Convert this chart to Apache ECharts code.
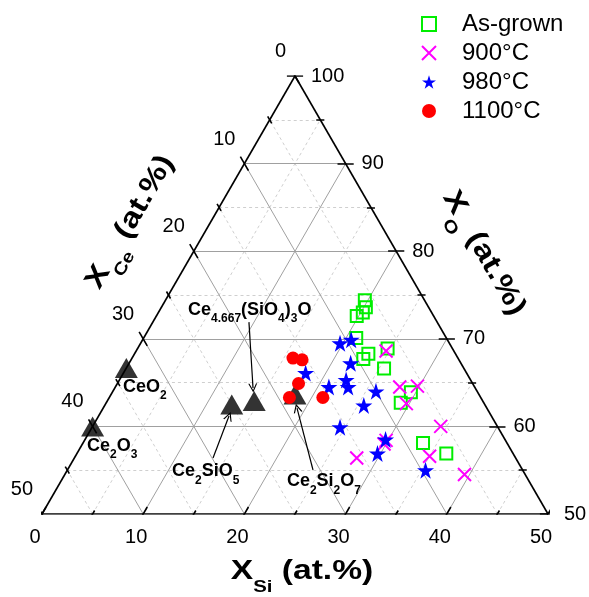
<!DOCTYPE html>
<html>
<head>
<meta charset="utf-8">
<script src="https://cdn.jsdelivr.net/npm/echarts/dist/echarts.min.js"></script>
<style>
html, body { margin: 0; background: #fff; }
#chart { width: 589px; height: 597px; }
</style>
</head>
<body>
<div id="chart"></div>
<script>
// compositions in at.% as [X_Si, X_O]; X_Ce = 100 - X_Si - X_O
const asGrown = [
    [19.7, 74.4], [20.2, 73.6], [20.2, 73.0], [19.8, 72.6], [21.0, 70.1],
    [23.1, 68.3], [22.9, 67.7], [24.7, 68.9], [25.5, 66.6], [29.5, 63.9],
    [29.1, 62.7], [33.6, 58.1], [36.5, 56.9]
]
const t900 = [
    [24.7, 68.6], [28.1, 64.5], [29.8, 64.6], [29.7, 62.6], [34.4, 60.0],
    [29.8, 58.4], [29.8, 58.0], [35.0, 56.6], [27.9, 56.4], [39.5, 54.5]
]
const t980 = [
    [19.7, 69.5], [20.6, 69.9], [18.0, 66.1], [21.9, 67.2], [22.4, 65.3],
    [23.0, 64.5], [21.1, 64.5], [26.0, 64.0], [25.6, 62.4], [24.5, 59.9],
    [29.7, 58.5], [29.7, 56.9], [35.4, 55.0]
]
const t1100 = [
    [15.9, 67.8], [16.9, 67.6], [17.9, 64.9], [17.8, 63.3], [21.1, 63.3]
]
// reference phases, atoms per formula unit [Ce, Si, O]
const phaseNames = ['CeO2', 'Ce2O3', 'Ce2SiO5', 'Ce4.667(SiO4)3O', 'Ce2Si2O7']
const phaseAtoms = [[1, 0, 2], [2, 0, 3], [2, 1, 5], [4.667, 3, 13], [2, 2, 7]]
const siTicks = [0, 10, 20, 30, 40, 50]
const ceTicks = [0, 10, 20, 30, 40, 50]
const oTicks = [50, 60, 70, 80, 90, 100]
const seriesNames = ['As-grown', '900°C', '980°C', '1100°C']

const FONT = "'Liberation Sans', Arial, sans-serif"
const S3 = Math.sqrt(3) / 2

// (Si, O) -> cartesian, bottom edge is O = 50, edge length 50
function tern(si, o) {
    return [si + (o - 50) / 2, (o - 50) * S3]
}

function tick(p, d, len) {
    return { coords: [[p[0] - d[0] * len, p[1] - d[1] * len], [p[0] + d[0] * len, p[1] + d[1] * len]] }
}

const gridMajor = []
const gridMinor = []
for (let v = 5; v < 50; v += 5) {
    const list = v % 10 === 0 ? gridMajor : gridMinor
    list.push({ coords: [tern(0, 50 + v), tern(50 - v, 50 + v)] })
    list.push({ coords: [tern(v, 50), tern(v, 100 - v)] })
    list.push({ coords: [tern(50 - v, 50), tern(0, 100 - v)] })
}

const frame = [
    { coords: [tern(0, 50), tern(50, 50)] },
    { coords: [tern(50, 50), tern(0, 100)] },
    { coords: [tern(0, 100), tern(0, 50)] }
]
for (let v = 0; v <= 50; v += 5) {
    const len = v % 10 === 0 ? 0.8 : 0.4
    frame.push(tick(tern(v, 50), [0.5, S3], len))
    frame.push(tick(tern(50 - v, 50 + v), [1, 0], len))
    frame.push(tick(tern(0, 100 - v), [-0.5, S3], len))
}

const phasePoints = phaseAtoms.map(a => {
    const tot = a[0] + a[1] + a[2]
    return tern(a[1] / tot * 100, a[2] / tot * 100)
})

// annotation layout (cartesian units)
const annText = [
    { value: [8.0, 12.55], f: '{b|CeO}{s|2}' },
    { value: [4.45, 6.72], f: '{b|Ce}{s|2}{b|O}{s|3}' },
    { value: [12.85, 4.2], f: '{b|Ce}{s|2}{b|SiO}{s|5}' },
    { value: [14.43, 20.2], f: '{b|Ce}{s|4.667}{b|(SiO}{s|4}{b|)}{s|3}{b|O}' },
    { value: [24.2, 3.21], f: '{b|Ce}{s|2}{b|Si}{s|2}{b|O}{s|7}' }
]
const annArrows = [
    { coords: [[20.45, 18.97], [20.85, 12.45]] },
    { coords: [[16.9, 5.53], [18.48, 9.68]] },
    { coords: [[26.78, 4.35], [25.2, 10.47]] }
]

const starPath = 'path://M50,2L61.8,38.2L99.5,38.2L69,60.5L80.6,96.3L50,74L19.4,96.3L31,60.5L0.5,38.2L38.2,38.2Z'
const crossPath = 'path://M0,0L10,10M10,0L0,10'
const chevron = 'path://M0,10L5,0L10,10L8.6,10L5,2.8L1.4,10Z'

function lineSeries(data, style, z, extra) {
    return Object.assign({
        type: 'lines', coordinateSystem: 'cartesian2d', silent: true, z: z,
        data: data, lineStyle: Object.assign({ opacity: 1 }, style), animation: false
    }, extra || {})
}

function tickLabels(points, labels, label) {
    return {
        type: 'scatter', symbolSize: 0, silent: true, z: 6,
        itemStyle: { opacity: 1 },
        data: points.map((p, i) => ({ value: p, name: String(labels[i]) })),
        label: Object.assign({
            show: true, formatter: '{b}', fontSize: 20, color: '#000', fontFamily: FONT
        }, label)
    }
}

const chart = echarts.init(document.getElementById('chart'))
chart.setOption({
    animation: false,
    grid: { left: 42, right: 41, top: 76, bottom: 83 },
    xAxis: { type: 'value', min: 0, max: 50, show: false },
    yAxis: { type: 'value', min: 0, max: 50 * S3, show: false },
    legend: {
        data: seriesNames,
        orient: 'vertical',
        left: 416, top: 7,
        itemWidth: 14, itemHeight: 14, itemGap: 5,
        selectedMode: false,
        textStyle: { fontSize: 24, lineHeight: 24, color: '#000', fontFamily: FONT, padding: [0, 0, 0, 21] }
    },
    graphic: [
        axisTitle('Si', 302, 571, 0),
        axisTitle('Ce', 130, 222, Math.PI / 3),
        axisTitle('O', 484, 253, -Math.PI / 3)
    ],
    series: [
        lineSeries(gridMinor, { color: '#cfcfcf', width: 1, type: [3, 3] }, 1),
        lineSeries(gridMajor, { color: '#a0a0a0', width: 1 }, 1),
        {
            type: 'scatter', name: 'phases', z: 3,
            symbol: 'triangle', symbolSize: [23, 20],
            itemStyle: { color: '#333333', opacity: 1 },
            data: phasePoints
        },
        {
            type: 'scatter', name: seriesNames[0], z: 4,
            symbol: 'rect', symbolSize: 12,
            itemStyle: { color: 'rgba(0,0,0,0)', borderColor: '#00ee00', borderWidth: 2, opacity: 1 },
            data: asGrown.map(d => tern(d[0], d[1]))
        },
        {
            type: 'scatter', name: seriesNames[1], z: 4,
            symbol: crossPath, symbolSize: 13,
            itemStyle: { color: 'rgba(0,0,0,0)', borderColor: '#ff00ff', borderWidth: 2, opacity: 1 },
            data: t900.map(d => tern(d[0], d[1]))
        },
        {
            type: 'scatter', name: seriesNames[2], z: 4,
            symbol: starPath, symbolSize: 17,
            itemStyle: { color: '#0000ff', opacity: 1 },
            data: t980.map(d => tern(d[0], d[1]))
        },
        {
            type: 'scatter', name: seriesNames[3], z: 4,
            symbol: 'circle', symbolSize: 13,
            itemStyle: { color: '#ff0000', opacity: 1 },
            data: t1100.map(d => tern(d[0], d[1]))
        },
        lineSeries(frame, { color: '#000', width: 1.6 }, 5),
        lineSeries(annArrows, { color: '#000', width: 1.2 }, 5, {
            symbol: ['none', chevron], symbolSize: 9
        }),
        {
            type: 'scatter', symbolSize: 0, silent: true, z: 6,
            itemStyle: { opacity: 1 },
            data: annText.map(a => ({ value: a.value, label: { formatter: a.f } })),
            label: {
                show: true, position: 'right', distance: 0, color: '#000',
                rich: {
                    b: { fontSize: 18, fontWeight: 'bold', fontFamily: FONT, color: '#000' },
                    s: { fontSize: 12, fontWeight: 'bold', fontFamily: FONT, color: '#000', padding: [18, 0, 0, 0] }
                }
            }
        },
        tickLabels(siTicks.map(v => tern(v, 50)), siTicks, { position: 'inside', offset: [-7, 23] }),
        tickLabels(oTicks.map(v => tern(100 - v, v)), oTicks, { position: 'right', distance: 16 }),
        tickLabels(ceTicks.map(v => tern(0, 100 - v)), ceTicks, { position: 'inside', align: 'right', offset: [-9, -24.5] })
    ]
})

function axisTitle(sub, x, y, rot) {
    return {
        type: 'text', x: x, y: y, rotation: rot, scaleX: 1.2,
        style: {
            text: '{X|X}{s|' + sub + '}{t| (at.%)}',
            align: 'center', verticalAlign: 'middle',
            rich: {
                X: { fontSize: 28, fontWeight: 'bold', fontFamily: FONT, fill: '#000' },
                s: { fontSize: 17, fontWeight: 'bold', fontFamily: FONT, fill: '#000', padding: [33, 0, 0, 0] },
                t: { fontSize: 28, fontWeight: 'bold', fontFamily: FONT, fill: '#000' }
            }
        }
    }
}
</script>
</body>
</html>
